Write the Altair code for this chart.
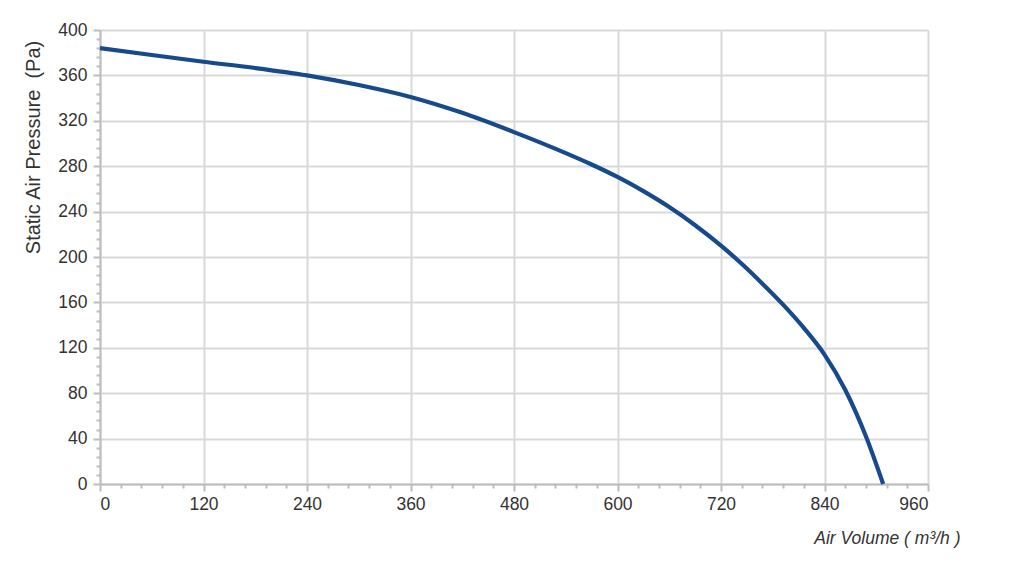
import altair as alt
import pandas as pd

air_volume = [0, 60, 120, 180, 240, 300, 360, 420, 480, 540, 570, 600, 630, 660, 690, 720, 744, 768, 792, 816, 840, 864, 888, 908]
static_pressure = [384, 378, 372, 366.5, 360, 351.5, 341, 327, 310, 291.5, 281.5, 270.5, 258, 244, 228, 210, 194, 176.5, 158, 137.5, 114, 83, 42, 0]

x_ticks = list(range(0, 961, 24))
y_ticks = list(range(0, 401, 8))

df = pd.DataFrame({"v": air_volume, "p": static_pressure})

line = alt.Chart(df).mark_line(
    color="#174a8b", strokeWidth=4.2, interpolate="monotone"
).encode(
    x=alt.X(
        "v:Q",
        scale=alt.Scale(domain=[0, 960], nice=False, zero=False),
        axis=alt.Axis(
            values=x_ticks,
            labelExpr="datum.value % 120 === 0 ? datum.label : ''",
            gridOpacity={"condition": {"test": "datum.value % 120 === 0", "value": 1}, "value": 0},
            tickSize={"condition": {"test": "datum.value % 120 === 0", "value": 7}, "value": 4},
            title="Air Volume ( m³/h )",
            titleFontStyle="italic",
            titleFontWeight="normal",
            titleFontSize=17.5,
            titleColor="#333333",
            titleAlign="right",
            titleBaseline="middle",
            titleX=860,
            titleY=54,
            labelPadding=4,
        ),
    ),
    y=alt.Y(
        "p:Q",
        scale=alt.Scale(domain=[0, 400], nice=False, zero=False),
        axis=alt.Axis(
            values=y_ticks,
            labelExpr="datum.value % 40 === 0 ? datum.label : ''",
            gridOpacity={"condition": {"test": "datum.value % 40 === 0", "value": 1}, "value": 0},
            tickSize={"condition": {"test": "datum.value % 40 === 0", "value": 7}, "value": 4},
            title="Static Air Pressure\u00a0\u00a0(Pa)",
            titleFontWeight="normal",
            titleFontSize=20,
            titleColor="#333333",
            titleAlign="center",
            titleBaseline="middle",
            titleX=-67,
            titleY=117,
            labelPadding=6,
        ),
    ),
)

chart = line.properties(
    width=828,
    height=454,
    autosize=alt.AutoSizeParams(type="none"),
    padding={"left": 92, "top": 22, "right": 88, "bottom": 77},
    background="white",
).configure_view(
    stroke=None
).configure_axis(
    labelFont="Liberation Sans",
    titleFont="Liberation Sans",
    labelFontSize=17.5,
    labelColor="#333333",
    gridColor="#d9d9d9",
    gridWidth=2,
    domainColor="#bdbdbd",
    domainWidth=2,
    tickColor="#bdbdbd",
    tickWidth=2,
)

chart.save("out.html", embed_options={"renderer": "svg", "actions": False})
